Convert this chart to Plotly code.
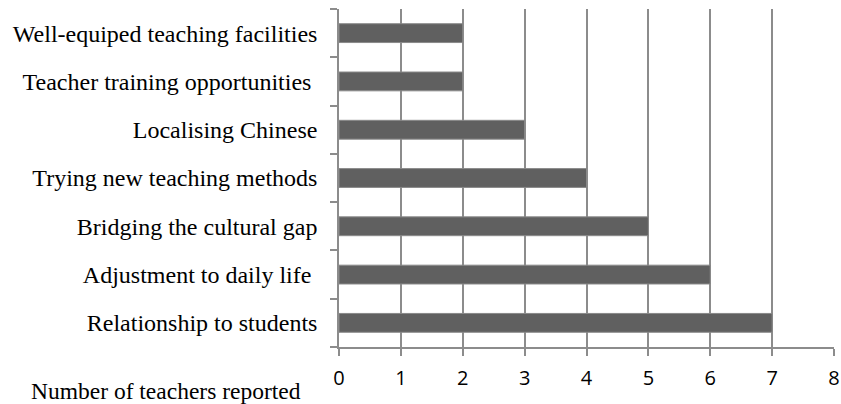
import plotly.graph_objects as go

categories = [
    "Relationship to students",
    "Adjustment to daily life\u00a0",
    "Bridging the cultural gap",
    "Trying new teaching methods",
    "Localising Chinese",
    "Teacher training opportunities\u00a0",
    "Well-equiped teaching facilities",
]
values = [7, 6, 5, 4, 3, 2, 2]
x_ticks = [0, 1, 2, 3, 4, 5, 6, 7, 8]
x_label = "Number of teachers reported"

fig = go.Figure(
    go.Bar(
        x=values,
        y=categories,
        orientation="h",
        marker=dict(color="#606060", line=dict(color="#8a8a8a", width=1)),
        hoverinfo="skip",
    )
)

grey = "#8c8c8c"
W, H = 841, 404
ML, MR, MT, MB = 339, 7, 9, 57
fig.update_layout(
    width=W,
    height=H,
    margin=dict(l=ML, r=MR, t=MT, b=MB),
    paper_bgcolor="white",
    plot_bgcolor="white",
    bargap=0.61,
    showlegend=False,
    xaxis=dict(
        range=[0, 8],
        tickvals=x_ticks,
        ticktext=[str(v) for v in x_ticks],
        showgrid=True,
        gridcolor=grey,
        gridwidth=1.5,
        zeroline=False,
        showline=True,
        linecolor=grey,
        linewidth=1.5,
        ticks="outside",
        ticklen=7,
        tickcolor=grey,
        tickwidth=1.5,
        ticklabelstandoff=5,
        tickfont=dict(family="Open Sans", size=20, color="black"),
        automargin=False,
        fixedrange=True,
    ),
    yaxis=dict(
        type="category",
        categoryorder="array",
        categoryarray=categories,
        showgrid=False,
        zeroline=False,
        showline=True,
        linecolor=grey,
        linewidth=1.5,
        ticks="outside",
        tickson="boundaries",
        ticklen=7,
        tickcolor=grey,
        tickwidth=1.5,
        ticklabelstandoff=15,
        tickfont=dict(family="Liberation Serif", size=24, color="black"),
        automargin=False,
        fixedrange=True,
    ),
    annotations=[
        dict(
            text=x_label,
            xref="paper",
            yref="paper",
            x=(166 - ML) / (W - ML - MR),
            y=-(391 - (H - MB)) / (H - MT - MB),
            xanchor="center",
            yanchor="middle",
            showarrow=False,
            font=dict(family="Liberation Serif", size=23.5, color="black"),
        )
    ],
)

fig.write_html(
    "out.html",
    config={"displayModeBar": False},
    post_script="document.body.style.margin='0';document.body.style.overflow='hidden';",
)
